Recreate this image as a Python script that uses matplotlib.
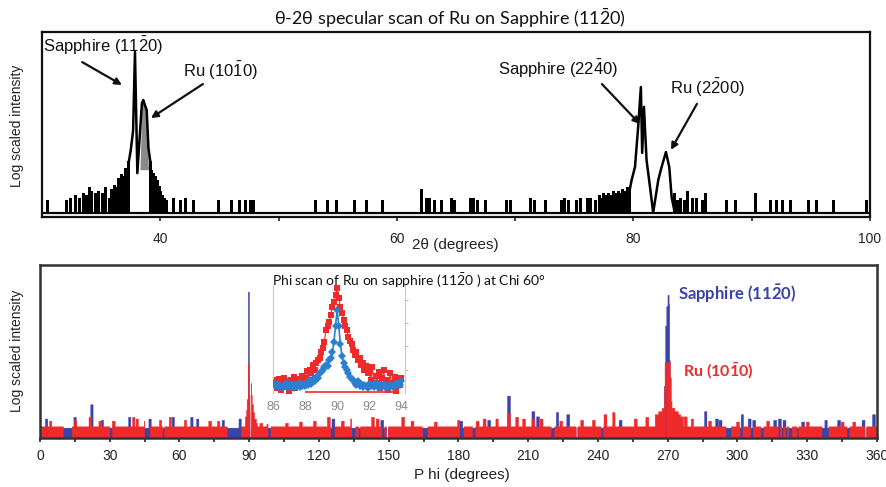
import numpy as np
import matplotlib
matplotlib.use("Agg")
import matplotlib.pyplot as plt

plt.rcParams['font.family'] = ['Liberation Sans', 'DejaVu Sans']
plt.rcParams['mathtext.fontset'] = 'custom'
plt.rcParams['mathtext.rm'] = 'Liberation Sans'

W, H = 887, 487

# ---------------- theta-2theta specular scan ----------------
tt_ticks = [40, 60, 80, 100]
tt_minor = [50, 70, 90]

# isolated counts above background: (2theta, log intensity)
tt_spikes = [
    (30.5, 0.30), (32.1, 0.30), (32.4, 0.35), (32.8, 0.40), (33.2, 0.35), (33.5, 0.45),
    (33.8, 0.40), (34.0, 0.60), (34.2, 0.50), (34.5, 0.45), (34.8, 0.50), (35.1, 0.45),
    (35.4, 0.60), (35.7, 0.35), (35.85, 0.55), (36.0, 0.45), (36.15, 0.65), (36.3, 0.60),
    (36.45, 0.80), (36.6, 0.72), (36.75, 0.90), (36.9, 0.85), (37.05, 1.05), (37.2, 1.00),
    (37.35, 1.20), (39.15, 1.20), (39.3, 1.00), (39.45, 0.92), (39.6, 0.85), (39.75, 0.75),
    (39.9, 0.62), (40.05, 0.50), (40.2, 0.40), (40.35, 0.35), (40.55, 0.30),
    (41.1, 0.35), (41.7, 0.30), (42.1, 0.35), (42.8, 0.30), (44.9, 0.30), (46.0, 0.30),
    (46.7, 0.30), (47.2, 0.30), (47.6, 0.30), (47.9, 0.30), (53.1, 0.30), (54.1, 0.30),
    (54.9, 0.30), (56.4, 0.30), (57.4, 0.30), (58.8, 0.30), (62.1, 0.55), (62.5, 0.35),
    (62.8, 0.35), (63.2, 0.30), (63.8, 0.30), (64.6, 0.35), (64.9, 0.30), (66.2, 0.35),
    (66.5, 0.35), (66.8, 0.30), (67.5, 0.30), (69.3, 0.30), (69.6, 0.30), (71.3, 0.35),
    (71.6, 0.30), (72.6, 0.30), (73.9, 0.30), (74.2, 0.35), (74.5, 0.30), (75.2, 0.30),
    (75.5, 0.35), (76.1, 0.35), (76.4, 0.35), (76.8, 0.30), (77.1, 0.40), (77.3, 0.35),
    (77.5, 0.45), (77.7, 0.40), (77.9, 0.45), (78.1, 0.40), (78.3, 0.50), (78.5, 0.45),
    (78.7, 0.50), (78.9, 0.45), (79.1, 0.55), (79.3, 0.50), (79.5, 0.60), (79.7, 0.55),
    (83.5, 0.45), (83.7, 0.30), (84.0, 0.35), (84.3, 0.30), (84.6, 0.50), (85.0, 0.35),
    (85.3, 0.35), (85.8, 0.30), (86.1, 0.45), (87.9, 0.30), (88.6, 0.30), (90.3, 0.45),
    (91.6, 0.30), (92.1, 0.30), (92.6, 0.30), (93.3, 0.30), (94.8, 0.30), (95.5, 0.30),
    (96.9, 0.30), (99.7, 0.30),
]

# Sapphire (11-20) + Ru (10-10) reflections
peak1_tt = [37.35, 37.5, 37.7, 37.86, 38.06, 38.28, 38.45, 38.56, 38.7, 38.85, 39.0, 39.15]
peak1_val = [1.20, 1.45, 1.90, 3.74, 0.92, 1.85, 2.55, 2.62, 2.50, 2.39, 1.50, 1.20]
# Sapphire (22-40) + Ru (2-200) reflections
peak2_tt = [79.7, 79.85, 80.13, 80.4, 80.63, 80.74, 80.89, 81.11, 81.4, 81.67, 82.1, 82.38,
            82.75, 83.03, 83.23, 83.5]
peak2_val = [0.55, 0.76, 1.06, 1.99, 2.92, 1.39, 2.46, 1.22, 0.60, 0.0, 0.76, 1.06,
             1.41, 1.06, 0.36, 0.0]

# ---------------- phi scan ----------------
phi_ticks = list(range(0, 361, 30))
phi_minor = list(range(15, 360, 30))
phi_step = 0.25
red_level = 0.27
blue_level = 0.24
dip_level = 0.03

red_spikes = [
    (4.4, 0.40), (15.2, 0.42), (21.4, 0.49), (25.7, 0.40), (31.5, 0.40), (40.2, 0.49),
    (41.6, 0.45), (45.2, 0.40), (51.6, 0.42), (55.9, 0.49), (62.3, 0.42), (73.0, 0.40),
    (76.6, 0.40), (95.0, 0.35), (98.0, 0.33), (106.0, 0.35), (112.0, 0.38), (118.0, 0.40),
    (124.0, 0.49), (130.0, 0.40), (134.0, 0.45), (143.0, 0.49), (145.0, 0.45), (156.0, 0.49),
    (160.0, 0.40), (170.0, 0.38), (180.0, 0.42), (188.0, 0.40), (191.0, 0.45), (196.4, 0.45),
    (201.5, 0.58), (205.0, 0.49), (208.0, 0.45), (212.0, 0.45), (215.5, 0.45), (224.0, 0.40),
    (233.0, 0.42), (238.0, 0.42), (243.0, 0.55), (246.7, 0.60), (256.0, 0.45), (261.0, 0.49),
    (276.0, 0.50), (277.5, 0.50), (280.4, 0.45), (288.0, 0.40), (300.0, 0.38), (313.0, 0.40),
    (330.0, 0.38), (345.0, 0.38), (350.0, 0.38),
]
blue_spikes = [
    (2.7, 0.45), (14.9, 0.49), (22.1, 0.78), (26.6, 0.42), (38.3, 0.49), (47.2, 0.45),
    (57.2, 0.49), (65.1, 0.49), (67.7, 0.45), (78.7, 0.42), (85.9, 0.45), (126.0, 0.45),
    (147.0, 0.42), (181.0, 0.40), (193.0, 0.42), (201.5, 0.98), (212.0, 0.62), (214.0, 0.50),
    (222.3, 0.60), (227.0, 0.55), (249.5, 0.42), (286.2, 0.62), (291.0, 0.45), (292.5, 0.42),
    (301.8, 0.55), (305.0, 0.45), (307.0, 0.42), (316.0, 0.42), (318.0, 0.45), (320.0, 0.42),
    (328.0, 0.38), (337.8, 0.42), (343.5, 0.42), (354.0, 0.42), (358.5, 0.55),
]
# reflections as (phi from, phi to, log intensity)
blue_peaks = [
    (89.2, 89.4, 0.60), (89.4, 89.9, 3.38), (89.9, 90.1, 0.60),
    (268.4, 268.8, 1.20), (268.8, 269.3, 2.60), (269.3, 269.8, 3.05), (269.8, 270.4, 3.31),
    (270.4, 270.7, 3.10), (270.7, 271.0, 1.80), (271.0, 271.3, 0.80),
]
red_peaks = [
    (88.2, 88.7, 0.50), (88.7, 89.0, 0.65), (89.0, 89.3, 0.90), (89.3, 89.9, 1.73),
    (89.9, 90.25, 1.00), (90.5, 90.9, 1.27), (90.9, 91.2, 1.00), (91.2, 91.6, 0.78),
    (91.6, 92.2, 0.60), (92.2, 92.8, 0.45), (92.8, 93.3, 0.35),
    (264.5, 266.0, 0.55), (266.0, 267.5, 0.62), (267.5, 268.3, 0.70), (268.3, 268.7, 1.20),
    (268.7, 271.0, 1.76), (271.0, 271.3, 1.40), (271.3, 271.7, 0.85), (271.7, 273.0, 0.70),
    (273.0, 274.5, 0.62), (274.5, 275.5, 0.55),
]
# stretches where the Ru signal drops below the sapphire background
red_dips = [
    (10.0, 13.6), (30.0, 30.8), (44.9, 47.0), (52.7, 53.3), (80.5, 86.3), (98.0, 99.0),
    (125.0, 126.5), (134.0, 135.5), (137.0, 137.5), (147.0, 148.0), (164.3, 166.5),
    (180.5, 182.0), (186.0, 187.0), (219.6, 221.0), (241.2, 242.0), (268.9, 269.2),
    (294.8, 297.0), (301.0, 302.0), (305.5, 306.5), (310.0, 311.0), (317.5, 318.0),
    (319.0, 319.5), (320.5, 321.0), (322.0, 323.3), (325.5, 326.0), (336.2, 339.0),
    (347.0, 348.0),
]
empty_gaps = [(90.25, 90.5), (149.0, 149.6), (230.5, 231.2), (354.6, 355.3)]

# inset: fine phi scan around 90 deg (0.1 deg steps from 86 to 94)
inset_start, inset_stop, inset_step = 86.0, 94.0, 0.1
inset_red = [
    0.45, 0.20, 0.55, 0.30, 0.60, 0.15, 0.45, 0.65, 0.25, 0.50, 0.10, 0.55, 0.35, 0.70,
    0.20, 0.45, 0.60, 0.30, 0.75, 0.40,
    0.65, 0.95, 0.55, 1.00, 0.85, 1.20, 1.00, 1.30, 1.40, 1.50, 1.75, 1.95, 2.20, 2.70,
    2.90, 3.05, 3.35, 3.70, 3.90, 4.20,
    4.50,
    4.10, 3.70, 3.45, 3.15, 2.90, 2.70, 2.40, 2.25, 2.10, 1.85, 1.65, 1.75, 1.40, 1.50,
    1.20, 1.30, 1.00, 1.15, 0.85,
    0.90, 0.55, 1.10, 0.30, 0.75, 0.45, 0.90, 0.20, 0.65, 1.00, 0.35, 0.55, 0.15, 0.85,
    0.45, 0.30, 0.70, 0.10, 0.55, 0.35, 0.65,
]
inset_blue = [
    0.45, 0.35, 0.30, 0.40, 0.25, 0.30, 0.20, 0.35, 0.30, 0.45, 0.25, 0.30, 0.40, 0.20,
    0.35, 0.30, 0.45, 0.25, 0.30, 0.40, 0.30, 0.45, 0.35, 0.55, 0.40, 0.60, 0.50, 0.70,
    0.65, 0.85,
    0.90, 1.00, 1.10, 1.20, 1.15, 1.40, 1.50, 1.75, 2.20, 2.90,
    3.56,
    2.90, 2.10, 1.60, 1.30, 1.10, 1.00, 0.85, 0.70, 0.60,
    0.55, 0.45, 0.35, 0.50, 0.30, 0.40, 0.25, 0.35, 0.30, 0.20, 0.40, 0.30, 0.35, 0.25,
    0.45, 0.30, 0.20, 0.35, 0.30, 0.40, 0.25, 0.30, 0.20, 0.35, 0.30, 0.25, 0.40, 0.30,
    0.45, 0.35, 0.50,
]
inset_ticks = [86, 88, 90, 92, 94]

BLUE = '#3a43a8'
RED = '#ee2a2a'
INSET_BLUE = '#2a7fd0'


def fx(px):
    return px / W


def fy(py):
    return 1 - py / H


fig = plt.figure(figsize=(W / 100, H / 100), dpi=100)

# ---------- top panel ----------
ax1 = fig.add_axes([fx(42), fy(217), fx(870) - fx(42), fy(32) - fy(217)])
ax1.set_xlim(30, 100)
ax1.set_ylim(-0.1, 4.2)
ax1.axhline(0, color='k', lw=1.6, zorder=2)
sp_x = [p for p, _ in tt_spikes]
sp_h = [h for _, h in tt_spikes]
ax1.bar(sp_x, sp_h, width=0.25, bottom=0, color='k', lw=0, zorder=3)
p1x = np.array(peak1_tt)
p1y = np.array(peak1_val)
ax1.fill_between(p1x, 1.0, p1y, where=(p1x >= 38.3) & (p1x <= 38.85),
                 color='#8a8a8a', lw=0, zorder=2, interpolate=True)
ax1.plot(p1x, p1y, color='k', lw=1.8, zorder=4)
ax1.plot(peak2_tt, peak2_val, color='k', lw=1.8, zorder=4)

ax1.set_xticks(tt_ticks)
ax1.set_xticks(tt_minor, minor=True)
ax1.set_yticks([])
ax1.tick_params(axis='x', which='both', direction='out', length=3, width=1.2,
                labelsize=10, pad=8, colors='#222')
for s in ax1.spines.values():
    s.set_linewidth(1.6)
    s.set_color('#111')

arrow = dict(arrowstyle='-|>', color='#111', lw=1.6, mutation_scale=10,
             shrinkA=0, shrinkB=0)
tfs = 12
ax1.text(30.08, 3.87, r'Sapphire (11$\mathregular{\bar{2}}$0)', ha='left', va='center',
         fontsize=tfs, color='#111')
ax1.annotate('', xy=(36.76, 2.97), xytext=(33.4, 3.5), arrowprops=arrow)
ax1.text(41.92, 3.29, r'Ru (10$\mathregular{\bar{1}}$0)', ha='left', va='center',
         fontsize=tfs, color='#111')
ax1.annotate('', xy=(39.21, 2.2), xytext=(43.6, 2.99), arrowprops=arrow)
ax1.text(68.55, 3.34, r'Sapphire (22$\mathregular{\bar{4}}$0)', ha='left', va='center',
         fontsize=tfs, color='#111')
ax1.annotate('', xy=(80.55, 2.06), xytext=(77.34, 2.99), arrowprops=arrow)
ax1.text(83.09, 2.9, r'Ru (2$\mathregular{\bar{2}}$00)', ha='left', va='center',
         fontsize=tfs, color='#111')
ax1.annotate('', xy=(83.17, 1.46), xytext=(85.37, 2.53), arrowprops=arrow)

fig.text(fx(450), fy(18), r'θ-2θ specular scan of Ru on Sapphire (11$\mathregular{\bar{2}}$0)',
         ha='center', va='center', fontsize=13, family=['Lato', 'DejaVu Sans'], color='#111')
fig.text(fx(455), fy(245), '2θ (degrees)', ha='center', va='center', fontsize=11, color='#222')
fig.text(fx(17), fy(126), 'Log scaled intensity', rotation=90, ha='center', va='center',
         fontsize=10, color='#222')

# ---------- bottom panel ----------
ax2 = fig.add_axes([fx(40), fy(438), fx(877) - fx(40), fy(265) - fy(438)])
phi = np.arange(0, 360 + phi_step / 2, phi_step)


def build(level, spikes, peaks, dips=(), gaps=()):
    y = np.full(phi.shape, level)
    for p, h in spikes:
        m = np.abs(phi - p) <= 0.5
        y[m] = np.maximum(y[m], h)
    for a, b, h in peaks:
        y[(phi >= a) & (phi < b)] = h
    for a, b in dips:
        y[(phi >= a) & (phi <= b)] = dip_level
    for a, b in gaps:
        y[(phi >= a) & (phi <= b)] = 0
    return y


blue_y = build(blue_level, blue_spikes, blue_peaks, gaps=empty_gaps)
red_y = build(red_level, red_spikes, red_peaks, dips=red_dips, gaps=empty_gaps)
ax2.fill_between(phi, 0, blue_y, step='mid', color=BLUE, lw=0.3, edgecolor=BLUE, zorder=2)
ax2.fill_between(phi, 0, red_y, step='mid', color=RED, lw=0.3, edgecolor=RED, zorder=3)
ax2.set_xlim(0, 360)
ax2.set_ylim(0, 4)
ax2.set_xticks(phi_ticks)
ax2.set_xticks(phi_minor, minor=True)
ax2.set_yticks([])
ax2.tick_params(axis='x', which='both', direction='out', length=3, width=1.2,
                labelsize=10, pad=5, colors='#222')
for s in ax2.spines.values():
    s.set_linewidth(1.8)
    s.set_color('#333')
    s.set_zorder(5)

fig.text(fx(462), fy(475), 'P hi (degrees)', ha='center', va='center', fontsize=11, color='#222')
fig.text(fx(17), fy(351), 'Log scaled intensity', rotation=90, ha='center', va='center',
         fontsize=10, color='#222')
fig.text(fx(272), fy(281), r'Phi scan of Ru on sapphire (11$\mathregular{\bar{2}}$0 ) at Chi 60°',
         ha='left', va='center', fontsize=10, family=['Lato', 'DejaVu Sans'], color='#111',
         zorder=10)
fig.text(fx(678), fy(294), r'Sapphire (11$\mathregular{\bar{2}}$0)', ha='left', va='center',
         fontsize=12, family=['Lato', 'DejaVu Sans'], color=BLUE, weight='bold')
fig.text(fx(683), fy(371), r'Ru (10$\mathregular{\bar{1}}$0)', ha='left', va='center',
         fontsize=11.5, family=['Lato', 'DejaVu Sans'], color=RED, weight='bold')

# ---------- inset ----------
axi = fig.add_axes([fx(273), fy(393), fx(405) - fx(273), fy(285) - fy(393)])
axi.patch.set_alpha(0)
ix = np.round(np.arange(inset_start, inset_stop + inset_step / 2, inset_step), 2)
axi.hlines(0.05, 88.0, 93.6, color=RED, lw=1.2, zorder=1)
axi.plot(ix, inset_red, color=RED, lw=0.8, marker='s', ms=4.4, mew=0, zorder=2)
axi.plot(ix, inset_blue, color=INSET_BLUE, lw=1.2, marker='D', ms=3.8, mew=0, zorder=3)
axi.set_xlim(86, 94.23)
axi.set_ylim(0, 4.64)
axi.set_xticks(inset_ticks)
axi.set_yticks([1, 2, 3, 4])
axi.yaxis.tick_right()
axi.tick_params(axis='y', labelright=False, length=2.5, color='#bbbbbb', direction='out')
axi.tick_params(axis='x', length=0, labelsize=9, labelcolor='#8a8a8a', pad=6)
for k in ['top', 'bottom']:
    axi.spines[k].set_visible(False)
for k in ['left', 'right']:
    axi.spines[k].set_color('#c8c8c8')
    axi.spines[k].set_linewidth(0.8)

fig.savefig('out.png', dpi=100)
